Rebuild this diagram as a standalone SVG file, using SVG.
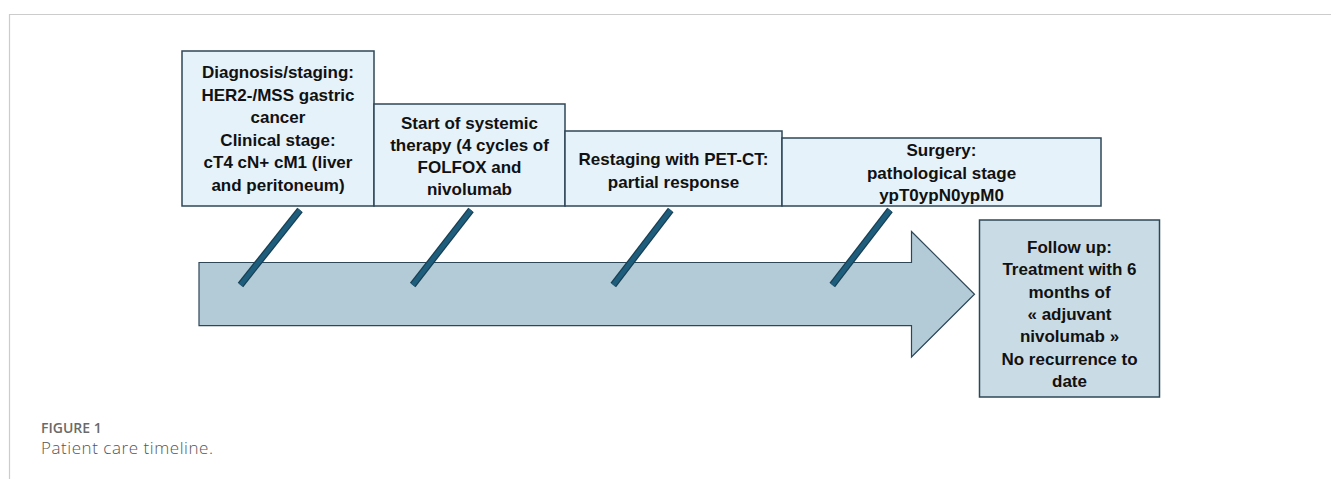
<svg xmlns="http://www.w3.org/2000/svg" width="1331" height="479" viewBox="0 0 1331 479">
<style>
.frame{fill:none;stroke:#cccccc;stroke-width:1.2}
.box{fill:#e6f2f9;stroke:#2e4757;stroke-width:1.5}
.box5{fill:#c9dce5;stroke:#2e4757;stroke-width:1.5}
.arrow{fill:#b3cbd7;stroke:#2e4757;stroke-width:1.2}
.t{font-family:"Liberation Sans",Arial,sans-serif;font-weight:bold;font-size:17px;fill:#111;text-anchor:middle}
.slash-o{stroke:#173e52;stroke-width:7;stroke-linecap:butt}
.slash-i{stroke:#1f5d7c;stroke-width:4.6;stroke-linecap:butt}
.cap1{font-family:"Open Sans","Liberation Sans",sans-serif;font-weight:600;font-size:14px;fill:#6a6a6a}
.cap2{font-family:"Open Sans","Liberation Sans",sans-serif;font-weight:300;font-size:17px;letter-spacing:0.55px;fill:#555}
</style>
<path class="frame" d="M9.5 479 V14.5 H1331"/>
<g id="timeline-arrow">
<polygon class="arrow" points="199,262.5 911.5,262.5 911.5,231.5 974.5,294.2 911.5,357 911.5,325.7 199,325.7"/>
</g>
<g id="node-diagnosis">
<rect class="box" x="182" y="51" width="192" height="155"/>
<text class="t" x="278" y="78">Diagnosis/staging:</text>
<text class="t" x="278" y="100.5">HER2-/MSS gastric</text>
<text class="t" x="278" y="123">cancer</text>
<text class="t" x="278" y="145.5">Clinical stage:</text>
<text class="t" x="278" y="168">cT4 cN+ cM1 (liver</text>
<text class="t" x="278" y="190.5">and peritoneum)</text>
</g>
<g id="node-therapy">
<rect class="box" x="374" y="104" width="191" height="102"/>
<text class="t" x="469.5" y="129">Start of systemic</text>
<text class="t" x="469.5" y="151">therapy (4 cycles of</text>
<text class="t" x="469.5" y="173">FOLFOX and</text>
<text class="t" x="469.5" y="195">nivolumab</text>
</g>
<g id="node-restaging">
<rect class="box" x="565" y="131" width="217" height="75"/>
<text class="t" x="673.5" y="165">Restaging with PET-CT:</text>
<text class="t" x="673.5" y="187.5">partial response</text>
</g>
<g id="node-surgery">
<rect class="box" x="782" y="138" width="319" height="68"/>
<text class="t" x="941.5" y="156">Surgery:</text>
<text class="t" x="941.5" y="178.5">pathological stage</text>
<text class="t" x="941.5" y="201">ypT0ypN0ypM0</text>
</g>
<g id="node-followup">
<rect class="box5" x="979.5" y="220" width="180" height="177"/>
<text class="t" x="1069.5" y="253">Follow up:</text>
<text class="t" x="1069.5" y="275.3">Treatment with 6</text>
<text class="t" x="1069.5" y="297.6">months of</text>
<text class="t" x="1069.5" y="319.9">« adjuvant</text>
<text class="t" x="1069.5" y="342.2">nivolumab »</text>
<text class="t" x="1069.5" y="364.5">No recurrence to</text>
<text class="t" x="1069.5" y="386.8">date</text>
</g>
<g id="connectors">
<line class="slash-o" x1="300" y1="210" x2="240.5" y2="285"/>
<line class="slash-i" x1="300" y1="210" x2="240.5" y2="285"/>
<line class="slash-o" x1="471" y1="210" x2="412.7" y2="285"/>
<line class="slash-i" x1="471" y1="210" x2="412.7" y2="285"/>
<line class="slash-o" x1="670.7" y1="210" x2="613.3" y2="285"/>
<line class="slash-i" x1="670.7" y1="210" x2="613.3" y2="285"/>
<line class="slash-o" x1="890" y1="210" x2="832.3" y2="285"/>
<line class="slash-i" x1="890" y1="210" x2="832.3" y2="285"/>
</g>
<text class="cap1" x="41" y="433.3">FIGURE 1</text>
<text class="cap2" x="41" y="454.3">Patient care timeline.</text>
</svg>
